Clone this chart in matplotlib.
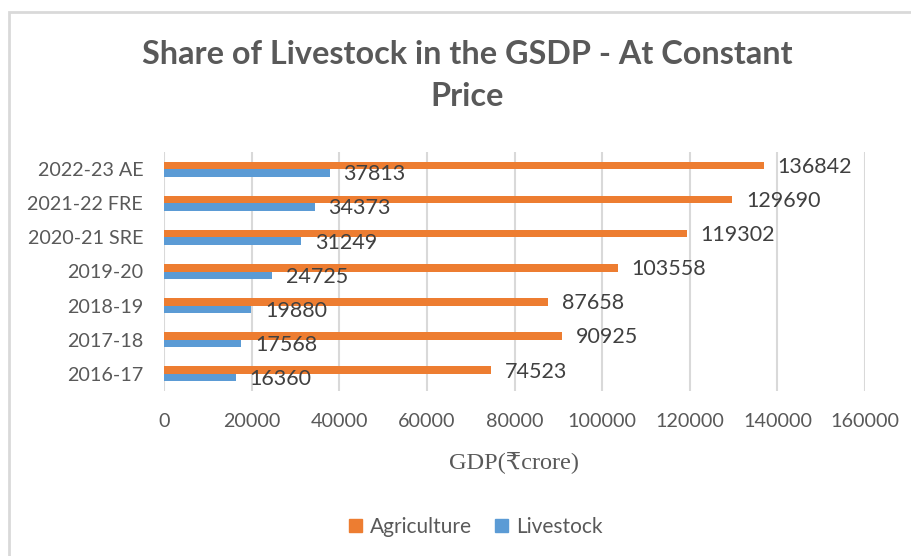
import numpy as np
import matplotlib.pyplot as plt
from matplotlib.patches import Patch, Rectangle

plt.rcParams['font.family'] = ['Lato', 'DejaVu Sans']

years = ["2016-17", "2017-18", "2018-19", "2019-20",
         "2020-21 SRE", "2021-22 FRE", "2022-23 AE"]
agriculture = [74523, 90925, 87658, 103558, 119302, 129690, 136842]
livestock = [16360, 17568, 19880, 24725, 31249, 34373, 37813]

c_agri = "#ED7D31"
c_live = "#5B9BD5"
grey = "#595959"

fig = plt.figure(figsize=(9.12, 5.56), dpi=100)
ax = fig.add_axes([164 / 912, 1 - 391 / 556, 701 / 912, 239 / 556])

# rahmen um das diagramm
fig.patches.append(Rectangle((9 / 912, -0.05), 1, 1.05 - 12 / 556, transform=fig.transFigure,
                             fill=False, edgecolor="#d9d9d9", linewidth=2))

y = np.arange(len(years))
h = 0.22
ax.barh(y + h / 2, agriculture, height=h, color=c_agri, label="Agriculture")
ax.barh(y - h / 2, livestock, height=h, color=c_live, label="Livestock")

for yi, v in zip(y, agriculture):
    ax.annotate(f"{v}", (v, yi + h / 2), xytext=(10, -1), textcoords="offset points",
                va="center", ha="left", fontsize=15.5, color="#404040")
for yi, v in zip(y, livestock):
    ax.annotate(f"{v}", (v, yi - h / 2), xytext=(10, -1), textcoords="offset points",
                va="center", ha="left", fontsize=15.5, color="#404040")

ax.set_xlim(0, 160000)
ax.set_ylim(-0.5, len(years) - 0.5)
ax.set_xticks(np.arange(0, 160001, 20000))
ax.set_yticks(y)
ax.set_yticklabels(years)
ax.tick_params(axis="both", length=0, labelsize=14.2, labelcolor=grey)
ax.tick_params(axis="y", pad=15)
ax.tick_params(axis="x", pad=16)
ax.grid(axis="x", color="#d9d9d9", linewidth=1.5)
ax.set_axisbelow(True)
for s in ax.spines.values():
    s.set_visible(False)

ax.set_xlabel("GDP(₹crore)", fontsize=17.5, color=grey,
              family=["Liberation Serif", "DejaVu Serif"], labelpad=15)

fig.text(0.512, 1 - 55 / 556, "Share of Livestock in the GSDP - At Constant",
         ha="center", va="center", fontsize=23.3, fontweight="bold", color=grey)
fig.text(0.512, 1 - 97 / 556, "Price",
         ha="center", va="center", fontsize=23.3, fontweight="bold", color=grey)

handles = [Patch(color=c_agri, label="Agriculture"), Patch(color=c_live, label="Livestock")]
leg = fig.legend(handles=handles, loc="center", bbox_to_anchor=(476 / 912, 1 - 527 / 556),
                 ncol=2, frameon=False, fontsize=15, handlelength=0.6, handleheight=0.6,
                 handletextpad=0.4, columnspacing=1.1)
for t in leg.get_texts():
    t.set_color(grey)

fig.savefig("out.png", dpi=100)
